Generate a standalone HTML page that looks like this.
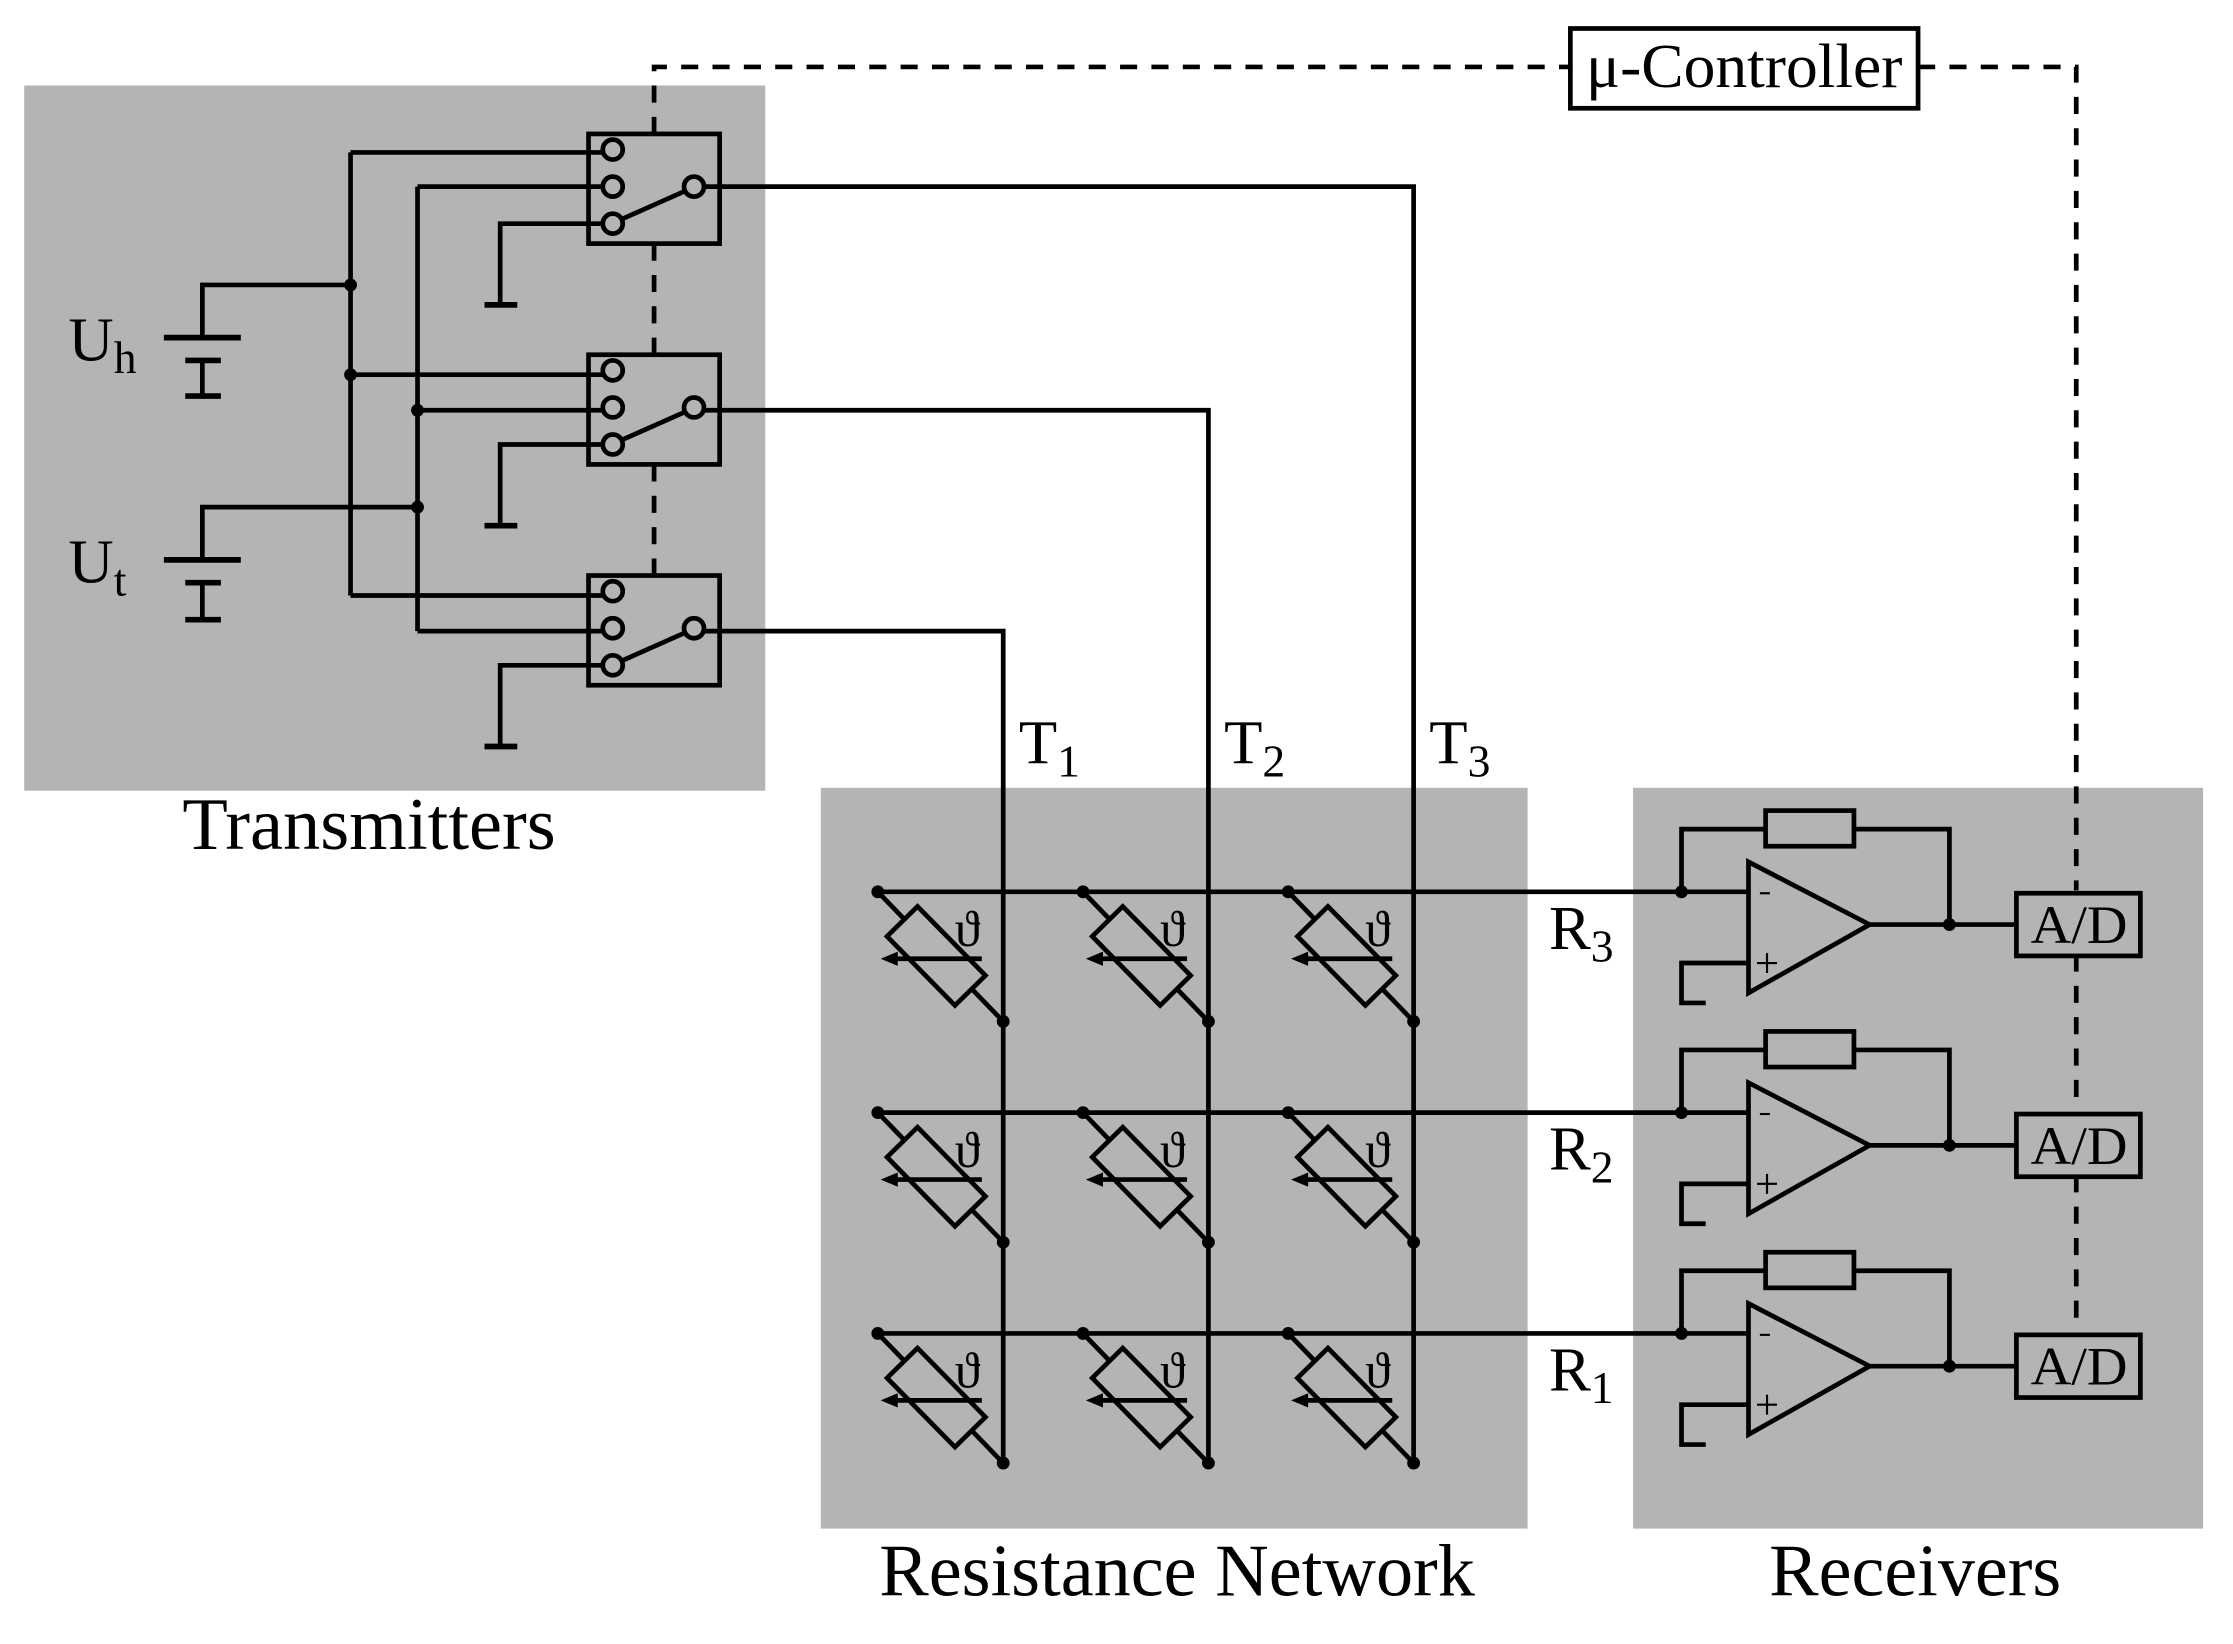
<!DOCTYPE html>
<html><head><meta charset="utf-8"><style>
html,body{margin:0;padding:0;background:#fff;}
svg{display:block;}
text{font-family:"Liberation Serif",serif;fill:#000;}
</style></head><body>
<svg width="2233" height="1644" viewBox="0 0 1567 1154" preserveAspectRatio="none" xmlns="http://www.w3.org/2000/svg">
<defs>
<g id="cell" stroke="#000" stroke-width="3.3" fill="none">
  <line x1="0" y1="0" x2="88" y2="91"/>
  <rect x="-34" y="-15" width="68" height="30" transform="translate(657,671) translate(-616,-626) rotate(45.5)" fill="#b4b4b4"/>
  <line x1="73" y1="47" x2="6" y2="47"/>
  <path d="M2,47 L14,42 L14,52 Z" fill="#000" stroke="none"/>
  <circle cx="0" cy="0" r="4.5" fill="#000" stroke="none"/>
  <circle cx="88" cy="91" r="4.5" fill="#000" stroke="none"/>
</g>
<g id="sw" stroke="#000" stroke-width="3.3" fill="none">
  <rect x="413" y="0" width="92" height="77"/>
  <circle cx="430" cy="11" r="7" fill="#b4b4b4"/>
  <circle cx="430" cy="37" r="7" fill="#b4b4b4"/>
  <circle cx="430" cy="63" r="7" fill="#b4b4b4"/>
  <circle cx="487" cy="37" r="7" fill="#b4b4b4"/>
  <line x1="436" y1="60" x2="481" y2="40"/>
  <polyline points="423,63 351,63 351,120"/>
  <line x1="340" y1="120" x2="363" y2="120" stroke-width="4"/>
</g>
<g id="rx" stroke="#000" stroke-width="3.3" fill="none">
  <polyline points="1180,0 1180,-44 1239,-44"/>
  <rect x="1239" y="-57" width="62" height="25"/>
  <polyline points="1301,-44 1368,-44 1368,23"/>
  <polygon points="1227,-21 1227,71 1312,23"/>
  <line x1="1180" y1="0" x2="1227" y2="0"/>
  <polyline points="1227,50 1180,50 1180,78 1197,78"/>
  <line x1="1312" y1="23" x2="1415" y2="23"/>
  <rect x="1415" y="1" width="87" height="44"/>
  <circle cx="1180" cy="0" r="4.5" fill="#000" stroke="none"/>
  <circle cx="1368" cy="23" r="4.5" fill="#000" stroke="none"/>
  <line x1="1235" y1="1" x2="1242" y2="1" stroke-width="1.5"/>
  <line x1="1233" y1="50" x2="1247" y2="50" stroke-width="1.5"/>
  <line x1="1240" y1="43" x2="1240" y2="57" stroke-width="1.5"/>
</g>
</defs>
<rect x="17" y="60" width="520" height="495" fill="#b4b4b4"/>
<rect x="576" y="553" width="496" height="520" fill="#b4b4b4"/>
<rect x="1146" y="553" width="400" height="520" fill="#b4b4b4"/>

<g stroke="#000" stroke-width="3.3" fill="none" stroke-dasharray="12,10">
  <polyline points="459,94 459,47 1102,47"/>
  <polyline points="1346,47 1457,47 1457,625"/>
  <line x1="459" y1="171" x2="459" y2="249"/>
  <line x1="459" y1="326" x2="459" y2="404"/>
  <line x1="1457" y1="670" x2="1457" y2="780"/>
  <line x1="1457" y1="825" x2="1457" y2="935"/>
</g>
<rect x="1102" y="20" width="244" height="56" fill="#fff" stroke="#000" stroke-width="3.3"/>
<text x="1224" y="61" font-size="44" text-anchor="middle" textLength="222" lengthAdjust="spacingAndGlyphs">μ-Controller</text>

<g stroke="#000" stroke-width="3.3" fill="none">
  <line x1="246" y1="107" x2="246" y2="418"/>
  <line x1="293" y1="131" x2="293" y2="443"/>
  <line x1="246" y1="107" x2="423" y2="107"/>
  <line x1="293" y1="131" x2="423" y2="131"/>
  <line x1="246" y1="263" x2="423" y2="263"/>
  <line x1="293" y1="288" x2="423" y2="288"/>
  <line x1="246" y1="418" x2="423" y2="418"/>
  <line x1="293" y1="443" x2="423" y2="443"/>
  <polyline points="246,200 142,200 142,237"/>
  <line x1="115" y1="237" x2="169" y2="237" stroke-width="4"/>
  <line x1="130" y1="253" x2="155" y2="253" stroke-width="4"/>
  <line x1="142" y1="253" x2="142" y2="278"/>
  <line x1="130" y1="278" x2="155" y2="278" stroke-width="4"/>
  <polyline points="293,356 142,356 142,393"/>
  <line x1="115" y1="393" x2="169" y2="393" stroke-width="4"/>
  <line x1="130" y1="409" x2="155" y2="409" stroke-width="4"/>
  <line x1="142" y1="409" x2="142" y2="435"/>
  <line x1="130" y1="435" x2="155" y2="435" stroke-width="4"/>
  <polyline points="494,131 992,131 992,1026"/>
  <polyline points="494,288 848,288 848,1026"/>
  <polyline points="494,443 704,443 704,1026"/>
  <line x1="616" y1="626" x2="1180" y2="626"/>
  <line x1="616" y1="781" x2="1180" y2="781"/>
  <line x1="616" y1="936" x2="1180" y2="936"/>
</g>
<g fill="#000">
  <circle cx="246" cy="200" r="4.5"/><circle cx="246" cy="263" r="4.5"/>
  <circle cx="293" cy="288" r="4.5"/><circle cx="293" cy="356" r="4.5"/>
</g>
<use href="#sw" y="94"/><use href="#sw" y="249"/><use href="#sw" y="404"/>

<use href="#cell" transform="translate(616,626)"/><use href="#cell" transform="translate(760,626)"/><use href="#cell" transform="translate(904,626)"/>
<use href="#cell" transform="translate(616,781)"/><use href="#cell" transform="translate(760,781)"/><use href="#cell" transform="translate(904,781)"/>
<use href="#cell" transform="translate(616,936)"/><use href="#cell" transform="translate(760,936)"/><use href="#cell" transform="translate(904,936)"/>
<g font-size="36">
  <text x="670" y="664">ϑ</text><text x="814" y="664">ϑ</text><text x="958" y="664">ϑ</text>
  <text x="670" y="819">ϑ</text><text x="814" y="819">ϑ</text><text x="958" y="819">ϑ</text>
  <text x="670" y="974">ϑ</text><text x="814" y="974">ϑ</text><text x="958" y="974">ϑ</text>
</g>

<use href="#rx" y="626"/><use href="#rx" y="781"/><use href="#rx" y="936"/>
<g font-size="38" text-anchor="middle">
  <text x="1459" y="662" textLength="68" lengthAdjust="spacingAndGlyphs">A/D</text>
  <text x="1459" y="817" textLength="68" lengthAdjust="spacingAndGlyphs">A/D</text>
  <text x="1459" y="972" textLength="68" lengthAdjust="spacingAndGlyphs">A/D</text>
</g>

<g font-size="44">
  <text x="48" y="253">U<tspan font-size="32" dy="9">h</tspan></text>
  <text x="48" y="409">U<tspan font-size="32" dy="9">t</tspan></text>
  <text x="715" y="536">T<tspan font-size="32" dy="9">1</tspan></text>
  <text x="859" y="536">T<tspan font-size="32" dy="9">2</tspan></text>
  <text x="1003" y="536">T<tspan font-size="32" dy="9">3</tspan></text>
  <text x="1087" y="666">R<tspan font-size="32" dy="9">3</tspan></text>
  <text x="1087" y="821">R<tspan font-size="32" dy="9">2</tspan></text>
  <text x="1087" y="976">R<tspan font-size="32" dy="9">1</tspan></text>
</g>
<g font-size="52" text-anchor="middle">
  <text x="259" y="596" textLength="262" lengthAdjust="spacingAndGlyphs">Transmitters</text>
  <text x="826" y="1120" textLength="418" lengthAdjust="spacingAndGlyphs">Resistance Network</text>
  <text x="1344" y="1120" textLength="205" lengthAdjust="spacingAndGlyphs">Receivers</text>
</g>
</svg>
</body></html>
